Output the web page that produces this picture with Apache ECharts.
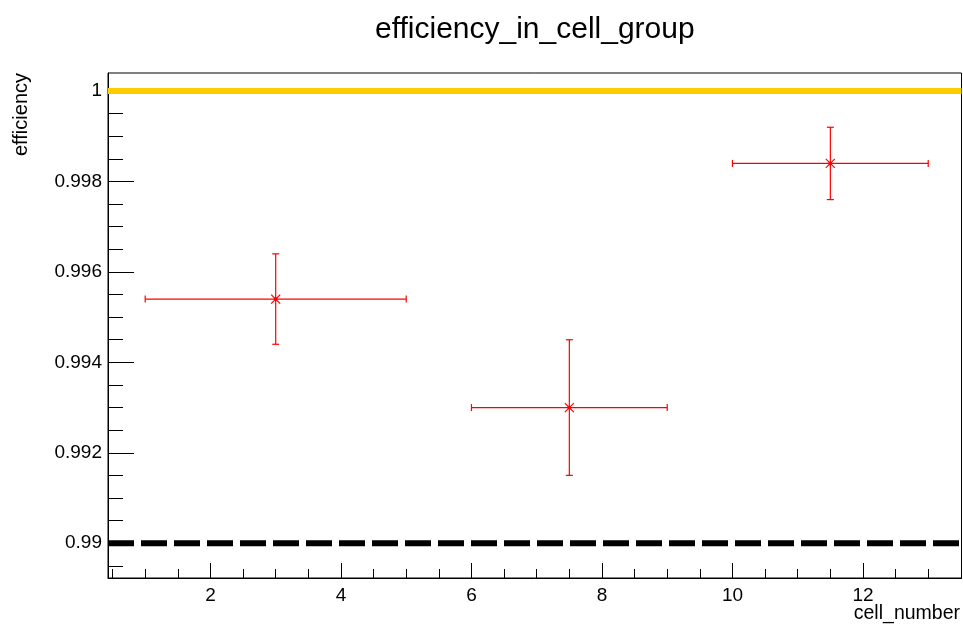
<!DOCTYPE html>
<html>
<head>
<meta charset="utf-8">
<title>efficiency_in_cell_group</title>
<script src="https://cdn.jsdelivr.net/npm/echarts@6/dist/echarts.min.js"></script>
<style>
  html, body { margin: 0; padding: 0; background: #fff; }
  #chart { width: 963px; height: 624px; }
</style>
</head>
<body>
<div id="chart"></div>
<script>
// Cell groups: centre, horizontal extent, and efficiency with its error band
const cellCenters = [3, 7.5, 11.5];
const cellLow = [1, 6, 10];
const cellHigh = [5, 9, 13];
const efficiency = [0.9954, 0.9930, 0.9984];
const effLow = [0.9944, 0.9915, 0.9976];
const effHigh = [0.9964, 0.9945, 0.9992];

// Reference levels
const fullEfficiency = 1;
const thresholdEfficiency = 0.99;

// Axis ranges and ticks
const xRange = [0.43, 13.51];
const yRange = [0.98923, 1.0004];
const xMajorTicks = [2, 4, 6, 8, 10, 12];
const xMinorTicks = [0.5, 1, 1.5, 2.5, 3, 3.5, 4.5, 5, 5.5, 6.5, 7, 7.5, 8.5, 9, 9.5, 10.5, 11, 11.5, 12.5, 13, 13.5];
const yMajorTicks = [0.99, 0.992, 0.994, 0.996, 0.998, 1];
const yTickLabels = ['0.99', '0.992', '0.994', '0.996', '0.998', '1'];
const yMinorTicks = [0.9895, 0.9905, 0.991, 0.9915, 0.9925, 0.993, 0.9935, 0.9945, 0.995, 0.9955, 0.9965, 0.997, 0.9975, 0.9985, 0.999, 0.9995];

const FONT = '"Liberation Sans", Arial, Helvetica, sans-serif';

const chart = echarts.init(document.getElementById('chart'), null, { renderer: 'canvas' });

const pointData = cellCenters.map((c, i) => [c, efficiency[i], cellLow[i], cellHigh[i], effLow[i], effHigh[i]]);

function renderErrorPoint(params, api) {
  const c = api.coord([api.value(0), api.value(1)]);
  const left = api.coord([api.value(2), api.value(1)]);
  const right = api.coord([api.value(3), api.value(1)]);
  const low = api.coord([api.value(0), api.value(4)]);
  const high = api.coord([api.value(0), api.value(5)]);
  const cap = 3.5;
  const m = 4.5;
  const stroke = { stroke: '#ff0000', lineWidth: 1.2 };
  const seg = (x1, y1, x2, y2) => ({ type: 'line', shape: { x1, y1, x2, y2 }, style: stroke });
  return {
    type: 'group',
    children: [
      seg(left[0], c[1], right[0], c[1]),
      seg(left[0], c[1] - cap, left[0], c[1] + cap),
      seg(right[0], c[1] - cap, right[0], c[1] + cap),
      seg(c[0], high[1], c[0], low[1]),
      seg(c[0] - cap, high[1], c[0] + cap, high[1]),
      seg(c[0] - cap, low[1], c[0] + cap, low[1]),
      seg(c[0] - m, c[1] - m, c[0] + m, c[1] + m),
      seg(c[0] - m, c[1] + m, c[0] + m, c[1] - m),
      { type: 'circle', shape: { cx: c[0], cy: c[1], r: 2 }, style: { fill: '#ff0000' } }
    ]
  };
}

const option = {
  backgroundColor: '#ffffff',
  animation: false,
  title: {
    text: 'efficiency_in_cell_group',
    left: 370,
    top: 10,
    textStyle: { fontFamily: FONT, fontSize: 30, fontWeight: 'normal', color: '#000' }
  },
  grid: {
    left: 108, right: 1.5, top: 73, bottom: 46,
    show: true, borderColor: '#000', borderWidth: 1, backgroundColor: 'transparent'
  },
  xAxis: [
    {
      type: 'value', min: xRange[0], max: xRange[1],
      axisLine: { show: true, lineStyle: { color: '#000', width: 1 } },
      splitLine: { show: false },
      axisTick: { show: true, inside: true, length: 15, customValues: xMajorTicks, lineStyle: { color: '#000', width: 1 } },
      axisLabel: { show: true, customValues: xMajorTicks, margin: 8, fontFamily: FONT, fontSize: 19, color: '#000' }
    },
    {
      type: 'value', min: xRange[0], max: xRange[1], position: 'bottom',
      axisLine: { show: false },
      splitLine: { show: false },
      axisTick: { show: true, inside: true, length: 9, customValues: xMinorTicks, lineStyle: { color: '#000', width: 1 } },
      axisLabel: { show: false }
    }
  ],
  yAxis: [
    {
      type: 'value', min: yRange[0], max: yRange[1],
      axisLine: { show: true, lineStyle: { color: '#000', width: 1 } },
      splitLine: { show: false },
      axisTick: { show: true, inside: true, length: 26, customValues: yMajorTicks, lineStyle: { color: '#000', width: 1 } },
      axisLabel: {
        show: true, customValues: yMajorTicks, margin: 6, fontFamily: FONT, fontSize: 19, color: '#000',
        formatter: function (v) {
          let best = 0;
          yMajorTicks.forEach((t, i) => { if (Math.abs(t - v) < Math.abs(yMajorTicks[best] - v)) best = i; });
          return yTickLabels[best];
        }
      }
    },
    {
      type: 'value', min: yRange[0], max: yRange[1], position: 'left',
      axisLine: { show: false },
      splitLine: { show: false },
      axisTick: { show: true, inside: true, length: 15, customValues: yMinorTicks, lineStyle: { color: '#000', width: 1 } },
      axisLabel: { show: false }
    }
  ],
  graphic: [
    {
      type: 'text', x: 21, y: 73, rotation: Math.PI / 2,
      style: { text: 'efficiency', fontFamily: FONT, fontSize: 20, fill: '#000', textAlign: 'right', textVerticalAlign: 'middle' }
    },
    {
      type: 'text', x: 960, y: 613.5,
      style: { text: 'cell_number', fontFamily: FONT, fontSize: 19.5, fill: '#000', textAlign: 'right', textVerticalAlign: 'middle' }
    }
  ],
  series: [
    {
      name: 'full efficiency', type: 'line', xAxisIndex: 0, yAxisIndex: 0,
      data: [[xRange[0], fullEfficiency], [xRange[1], fullEfficiency]],
      symbol: 'none', lineStyle: { color: '#ffcc00', width: 6 }, z: 2, silent: true
    },
    {
      name: 'threshold', type: 'line', xAxisIndex: 0, yAxisIndex: 0,
      data: [[xRange[0], thresholdEfficiency], [xRange[1], thresholdEfficiency]],
      symbol: 'none', lineStyle: { color: '#000', width: 6, type: [26, 7] }, z: 2, silent: true
    },
    {
      name: 'efficiency', type: 'custom', xAxisIndex: 0, yAxisIndex: 0,
      data: pointData,
      encode: { x: [0, 2, 3], y: [1, 4, 5] },
      renderItem: renderErrorPoint, z: 3
    }
  ]
};

chart.setOption(option);
</script>
</body>
</html>
